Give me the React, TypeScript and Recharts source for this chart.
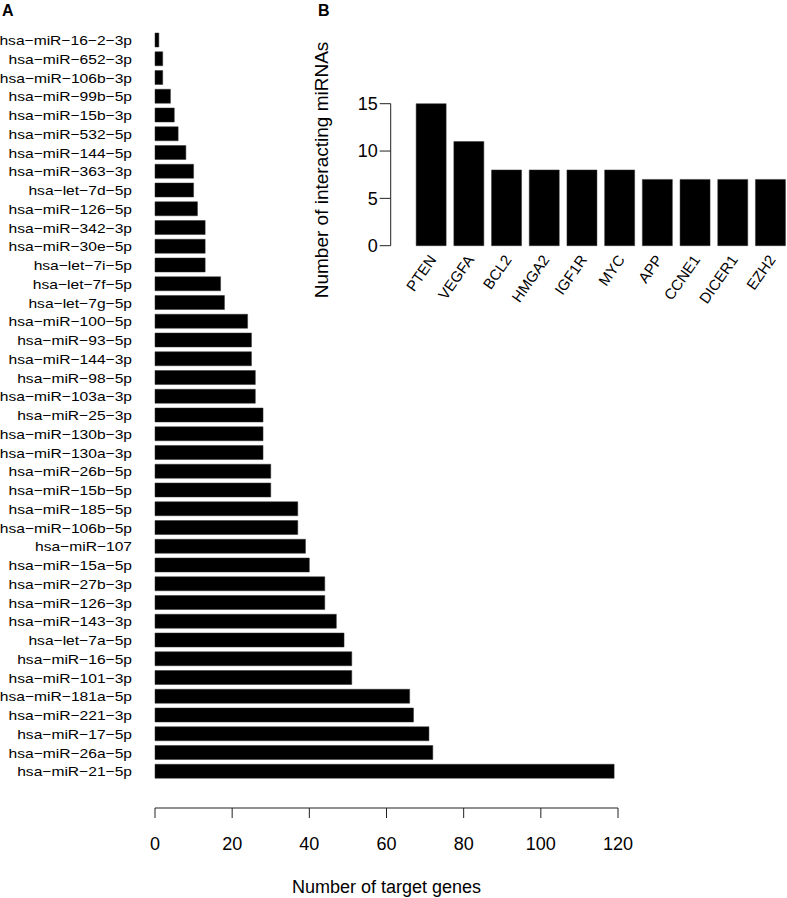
import { Bar, BarChart, XAxis, YAxis } from 'recharts';

// panel A: miRNAs, top to bottom as drawn
const mirnaNames = [
  'hsa-miR-16-2-3p',
  'hsa-miR-652-3p',
  'hsa-miR-106b-3p',
  'hsa-miR-99b-5p',
  'hsa-miR-15b-3p',
  'hsa-miR-532-5p',
  'hsa-miR-144-5p',
  'hsa-miR-363-3p',
  'hsa-let-7d-5p',
  'hsa-miR-126-5p',
  'hsa-miR-342-3p',
  'hsa-miR-30e-5p',
  'hsa-let-7i-5p',
  'hsa-let-7f-5p',
  'hsa-let-7g-5p',
  'hsa-miR-100-5p',
  'hsa-miR-93-5p',
  'hsa-miR-144-3p',
  'hsa-miR-98-5p',
  'hsa-miR-103a-3p',
  'hsa-miR-25-3p',
  'hsa-miR-130b-3p',
  'hsa-miR-130a-3p',
  'hsa-miR-26b-5p',
  'hsa-miR-15b-5p',
  'hsa-miR-185-5p',
  'hsa-miR-106b-5p',
  'hsa-miR-107',
  'hsa-miR-15a-5p',
  'hsa-miR-27b-3p',
  'hsa-miR-126-3p',
  'hsa-miR-143-3p',
  'hsa-let-7a-5p',
  'hsa-miR-16-5p',
  'hsa-miR-101-3p',
  'hsa-miR-181a-5p',
  'hsa-miR-221-3p',
  'hsa-miR-17-5p',
  'hsa-miR-26a-5p',
  'hsa-miR-21-5p',
];

const targetGeneCounts = [
  1, 2, 2, 4, 5, 6, 8, 10, 10, 11,
  13, 13, 13, 17, 18, 24, 25, 25, 26, 26,
  28, 28, 28, 30, 30, 37, 37, 39, 40, 44,
  44, 47, 49, 51, 51, 66, 67, 71, 72, 119,
];

const targetTicks = [0, 20, 40, 60, 80, 100, 120];

// panel B: genes
const geneNames = ['PTEN', 'VEGFA', 'BCL2', 'HMGA2', 'IGF1R', 'MYC', 'APP', 'CCNE1', 'DICER1', 'EZH2'];
const interactingCounts = [15, 11, 8, 8, 8, 8, 7, 7, 7, 7];
const interactingTicks = [0, 5, 10, 15];

const FONT = '"Liberation Sans", Arial, Helvetica, sans-serif';
const AXIS = '#222';

// R's pdf device draws hyphens as minus signs
const asMinus = (s: string) => s.replace(/-/g, '\u2212');

function MirTick({ x, y, payload }: any) {
  return (
    <text
      transform={`translate(${x},${y}) scale(1.2,1)`}
      textAnchor="end"
      dy="0.36em"
      fontSize={13}
      fontFamily={FONT}
      fill="#000"
    >
      {asMinus(String(payload.value))}
    </text>
  );
}

function GeneTick({ x, y, payload }: any) {
  return (
    <text
      transform={`translate(${x + 6},${y + 6}) rotate(-55)`}
      textAnchor="end"
      fontSize={15}
      fontFamily={FONT}
      fill="#000"
    >
      {payload.value}
    </text>
  );
}

export default function App() {
  const targetData = mirnaNames.map((name, i) => ({ name, count: targetGeneCounts[i] }));
  const geneData = geneNames.map((gene, i) => ({ gene, count: interactingCounts[i] }));

  return (
    <div
      style={{
        position: 'absolute',
        left: 0,
        top: 0,
        width: 787,
        height: 898,
        overflow: 'hidden',
        background: '#fff',
        fontFamily: FONT,
      }}
    >
      <div style={{ position: 'absolute', left: 2, top: 3, fontSize: 16, fontWeight: 700, lineHeight: 1 }}>A</div>
      <div style={{ position: 'absolute', left: 318, top: 3, fontSize: 16, fontWeight: 700, lineHeight: 1 }}>B</div>

      <div style={{ position: 'absolute', left: 0, top: 0 }}>
        <BarChart
          layout="vertical"
          width={640}
          height={898}
          data={targetData}
          margin={{ top: 31, right: 22, bottom: 0, left: 0 }}
        >
          <YAxis
            type="category"
            dataKey="name"
            width={155}
            interval={0}
            axisLine={false}
            tickLine={false}
            tickSize={0}
            tickMargin={23}
            padding={{ top: 0, bottom: 27 }}
            tick={<MirTick />}
          />
          <XAxis
            type="number"
            domain={[0, 120]}
            ticks={targetTicks}
            height={90}
            tickSize={10}
            tickMargin={19}
            axisLine={{ stroke: AXIS }}
            tickLine={{ stroke: AXIS }}
            tick={{ fill: '#000', fontSize: 18, fontFamily: FONT }}
            label={{
              content: ({ viewBox }: any) => (
                <text
                  x={viewBox.x + viewBox.width / 2}
                  y={893}
                  textAnchor="middle"
                  fontSize={18}
                  fontFamily={FONT}
                  fill="#000"
                >
                  Number of target genes
                </text>
              ),
            }}
          />
          <Bar dataKey="count" fill="#000" stroke="#333" strokeWidth={0.5} barSize={14} isAnimationActive={false} />
        </BarChart>
      </div>

      <div style={{ position: 'absolute', left: 300, top: 0 }}>
        <BarChart
          width={490}
          height={320}
          data={geneData}
          margin={{ top: 103.7, right: 0.85, bottom: 0, left: 0 }}
        >
          <XAxis
            dataKey="gene"
            height={74.3}
            interval={0}
            axisLine={false}
            tickLine={false}
            padding={{ left: 21.45, right: 0 }}
            tick={<GeneTick />}
          />
          <YAxis
            type="number"
            domain={[0, 15]}
            ticks={interactingTicks}
            width={90.7}
            tickSize={11}
            tickMargin={2}
            axisLine={{ stroke: AXIS }}
            tickLine={{ stroke: AXIS }}
            tick={{ fill: '#000', fontSize: 18, fontFamily: FONT }}
            label={{
              content: () => (
                <text
                  x={28.3}
                  y={170}
                  transform="rotate(-90, 28.3, 170)"
                  textAnchor="middle"
                  fontSize={19}
                  fontFamily={FONT}
                  fill="#000"
                >
                  Number of interacting miRNAs
                </text>
              ),
            }}
          />
          <Bar dataKey="count" fill="#000" stroke="#333" strokeWidth={0.5} barSize={30} isAnimationActive={false} />
        </BarChart>
      </div>
    </div>
  );
}
